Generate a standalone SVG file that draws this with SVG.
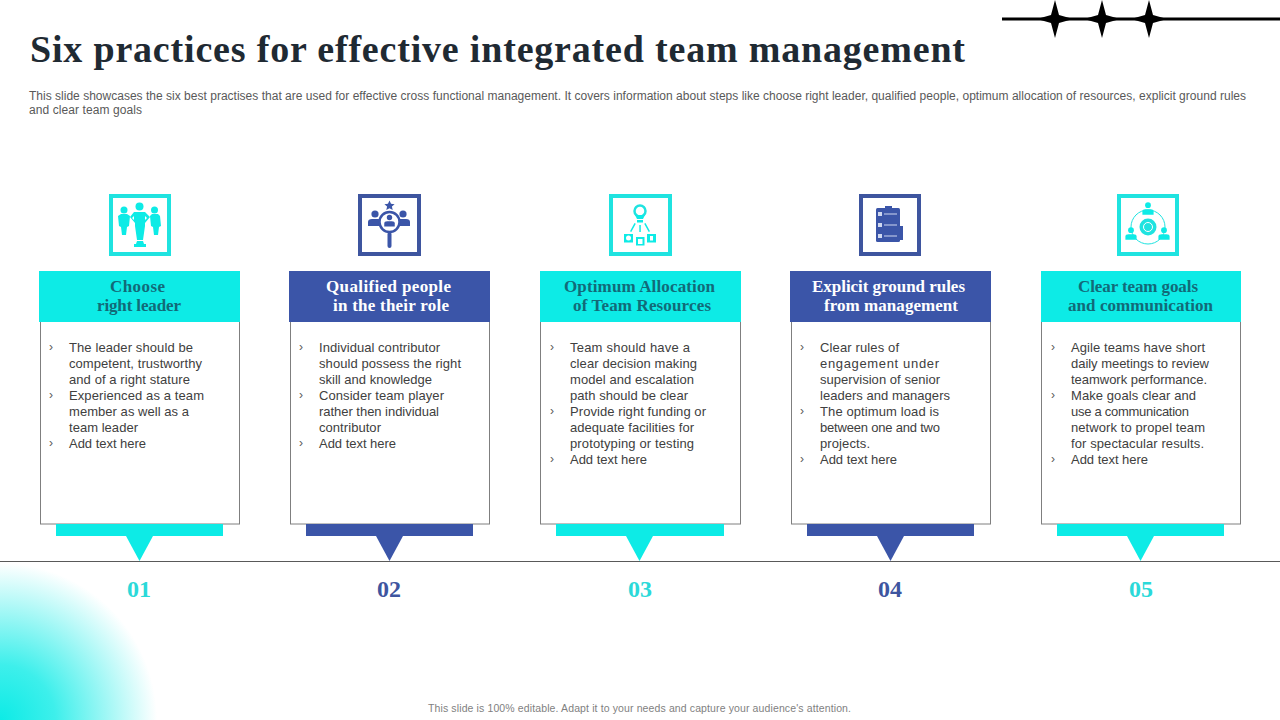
<svg xmlns="http://www.w3.org/2000/svg" width="1280" height="720" viewBox="0 0 1280 720">
<style>
.t{font-family:"Liberation Serif","DejaVu Serif",serif;font-weight:700}
.title{font-size:38px;fill:#1f2a33}
.s{font-family:"Liberation Sans",Arial,sans-serif}
.intro{font-size:12px;fill:#595959}
.foot{font-size:10.500px;fill:#7f7f7f}
.b{font-size:13px;fill:#404040}
.m{font-size:12px;fill:#595959}
.h{font-size:17px}
.hc{fill:#126a78}
.hb{fill:#fff}
.n{font-size:24px;text-anchor:middle}
.card{fill:#fff;stroke:#7f7f7f;stroke-width:1}
.c{fill:#0debe6}
.d{fill:#3b55a8}
.ic{fill:none;stroke-width:4}
.cs{stroke:#1fe3e0}
.ds{stroke:#3e559f}
.nc{fill:#2bd9d9}
.nd{fill:#3e559f}
</style>
<defs>
<radialGradient id="glow" gradientUnits="userSpaceOnUse" cx="0" cy="720" r="157">
<stop offset="0" stop-color="#0debe6"/><stop offset="0.35" stop-color="#0debe6" stop-opacity="0.8"/><stop offset="1" stop-color="#0debe6" stop-opacity="0"/>
</radialGradient>
<path id="star" d="M0-19 4-4 18 0 4 4 0 19-4 4-18 0-4-4Z" fill="#000"/>
<g id="person"><circle cx="0" cy="-6" r="3.600"/><path d="M-7 6v-4q0-3 4-3h6q4 0 4 3v4Z"/></g>
</defs>
<rect x="0" y="562" width="160" height="158" fill="url(#glow)"/>
<g id="decor">
<line x1="1002" y1="19" x2="1280" y2="19" stroke="#000" stroke-width="3"/>
<use href="#star" x="1055" y="19"/><use href="#star" x="1102" y="19"/><use href="#star" x="1149" y="19"/>
</g>
<text id="title" class="t title" x="30" y="62" textLength="935" lengthAdjust="spacing">Six practices for effective integrated team management</text>
<g id="intro" class="s intro">
<text x="29" y="100" textLength="1217" lengthAdjust="spacing">This slide showcases the six best practises that are used for effective cross functional management. It covers information about steps like choose right leader, qualified people, optimum allocation of resources, explicit ground rules</text>
<text x="29" y="114" textLength="113" lengthAdjust="spacing">and clear team goals</text>
</g>
<g id="connectors">
<line x1="0" y1="561.500" x2="1280" y2="561.500" stroke="#595959" stroke-width="1"/>
</g>

<g id="node1">
<rect class="ic cs" x="111" y="196" width="58" height="58"/>
<g class="c">
<circle cx="124" cy="210" r="3.500"/><circle cx="139.500" cy="206.500" r="4"/><circle cx="154.500" cy="210" r="3.500"/>
<path d="M121 214h6l3 2-1 10-2 1-1 8h-4l-1-8-2-1-1-10Z"/><path d="M152 214h6l2 2 1 10-2 1-1 8h-4l-1-8-2-1-1-10Z"/>
<path d="M134 212h11l5 5-5 6v3l-2 14h-6l-2-14v-3l-5-6ZM134 216l-2 2 2 2ZM145 216v4l2-2Z" fill-rule="evenodd"/>
<path d="M137 241h6l1 3h2v3h-12v-3h2Z"/>
</g>
<rect class="card" x="40.500" y="300" width="199" height="224"/>
<rect class="c" x="39" y="271" width="201" height="51"/>
<text class="t h hc" x="110" y="292" textLength="55">Choose</text><text class="t h hc" x="97" y="311" textLength="84">right leader</text>
<g class="s b">
<text class="m" x="49" y="351">›</text><text x="69" y="352" textLength="124">The leader should be</text>
<text x="69" y="368" textLength="133">competent, trustworthy</text>
<text x="69" y="384" textLength="121">and of a right stature</text>
<text class="m" x="49" y="399">›</text><text x="69" y="400" textLength="135">Experienced as a team</text>
<text x="69" y="416" textLength="120">member as well as a</text>
<text x="69" y="432" textLength="69">team leader</text>
<text class="m" x="49" y="447">›</text><text x="69" y="448" textLength="77">Add text here</text>
</g>
<rect class="c" x="56" y="524" width="167" height="12"/><path class="c" d="M126 536h27l-13.500 25Z"/>
<text class="t n nc" x="139" y="597">01</text>
</g>

<g id="node2">
<rect class="ic ds" x="360" y="196" width="59" height="58"/>
<g class="d">
<path d="M389.500 200.500l1.500 3.300 3.600.4-2.700 2.400.8 3.500-3.200-1.800-3.200 1.800.8-3.500-2.700-2.400 3.600-.4Z"/>
<use href="#person" x="375" y="220"/><use href="#person" x="403" y="220"/>
<circle cx="389.500" cy="222" r="10" fill="#fff" stroke="#3b55a8" stroke-width="2.500"/>
<use href="#person" transform="translate(389.500 222) scale(.75)"/>
<rect x="387.500" y="232" width="4" height="16" rx="2"/>
</g>
<rect class="card" x="290.500" y="300" width="199" height="224"/>
<rect class="d" x="289" y="271" width="201" height="51"/>
<text class="t h hb" x="326" y="292" textLength="125">Qualified people</text><text class="t h hb" x="333" y="311" textLength="116">in the their  role</text>
<g class="s b">
<text class="m" x="299" y="351">›</text><text x="319" y="352" textLength="121">Individual  contributor</text>
<text x="319" y="368" textLength="142">should possess the right</text>
<text x="319" y="384" textLength="113">skill and knowledge</text>
<text class="m" x="299" y="399">›</text><text x="319" y="400" textLength="125">Consider team player</text>
<text x="319" y="416" textLength="120">rather then individual</text>
<text x="319" y="432" textLength="62">contributor</text>
<text class="m" x="299" y="447">›</text><text x="319" y="448" textLength="77">Add text here</text>
</g>
<rect class="d" x="306" y="524" width="167" height="12"/><path class="d" d="M376 536h27l-13.500 25Z"/>
<text class="t n nd" x="389" y="597">02</text>
</g>

<g id="node3">
<rect class="ic cs" x="611" y="196" width="59" height="58"/>
<circle cx="640" cy="211" r="5.500" fill="none" stroke="#1fe3e0" stroke-width="2.500"/>
<g class="c">
<path d="M635 215h10l-2 4h-6Z"/><rect x="637" y="220" width="6" height="2.500"/>
<rect x="639.300" y="225" width="1.500" height="7"/>
<path d="M634.500 223l1.300.8-4.500 8.200-1.300-.8ZM645.500 223l-1.300.8 4.500 8.200 1.300-.8Z"/>
<rect x="624" y="234" width="9" height="8.500"/><rect x="636" y="237" width="8.500" height="8.500"/><rect x="647" y="234" width="9" height="8.500"/>
</g>
<g fill="#fff"><circle cx="628.500" cy="238" r="2.500"/><rect x="638" y="239" width="4.500" height="5"/><rect x="650" y="236" width="3" height="4.500"/></g>
<rect class="card" x="540.500" y="300" width="200" height="224"/>
<rect class="c" x="540" y="271" width="201" height="51"/>
<text class="t h hc" x="564" y="292" textLength="151">Optimum Allocation</text><text class="t h hc" x="573" y="311" textLength="138">of Team Resources</text>
<g class="s b">
<text class="m" x="550" y="351">›</text><text x="570" y="352" textLength="120">Team should have a</text>
<text x="570" y="368" textLength="127">clear decision making</text>
<text x="570" y="384" textLength="124">model and escalation</text>
<text x="570" y="400" textLength="118">path should be clear</text>
<text class="m" x="550" y="415">›</text><text x="570" y="416" textLength="136">Provide right funding or</text>
<text x="570" y="432" textLength="124">adequate facilities for</text>
<text x="570" y="448" textLength="124">prototyping or testing</text>
<text class="m" x="550" y="463">›</text><text x="570" y="464" textLength="77">Add text here</text>
</g>
<rect class="c" x="556" y="524" width="168" height="12"/><path class="c" d="M626 536h27l-13.500 25Z"/>
<text class="t n nc" x="640" y="597">03</text>
</g>

<g id="node4">
<rect class="ic ds" x="861" y="196" width="58" height="58"/>
<rect class="d" x="900" y="226" width="3" height="14"/>
<rect class="d" x="876" y="208" width="24" height="34" rx="1.500"/>
<rect class="d" x="885" y="206" width="7" height="3"/>
<g fill="#cfd8f0"><rect x="878" y="212" width="4" height="4"/><rect x="878" y="223" width="4" height="4"/><rect x="878" y="234" width="4" height="4"/>
<rect x="884" y="213.500" width="13" height="1"/><rect x="884" y="224.500" width="13" height="1"/><rect x="884" y="235.500" width="13" height="1"/></g>
<rect class="card" x="791.500" y="300" width="199" height="224"/>
<rect class="d" x="790" y="271" width="201" height="51"/>
<text class="t h hb" x="812" y="292" textLength="153">Explicit ground rules</text><text class="t h hb" x="824" y="311" textLength="134">from management</text>
<g class="s b">
<text class="m" x="800" y="351">›</text><text x="820" y="352" textLength="79">Clear rules of</text>
<text x="820" y="368" textLength="119">engagement  under</text>
<text x="820" y="384" textLength="120">supervision of senior</text>
<text x="820" y="400" textLength="130">leaders and managers</text>
<text class="m" x="800" y="415">›</text><text x="820" y="416" textLength="119">The optimum load is</text>
<text x="820" y="432" textLength="120">between one and two</text>
<text x="820" y="448" textLength="50">projects.</text>
<text class="m" x="800" y="463">›</text><text x="820" y="464" textLength="77">Add text here</text>
</g>
<rect class="d" x="807" y="524" width="167" height="12"/><path class="d" d="M877 536h27l-13.500 25Z"/>
<text class="t n nd" x="890" y="597">04</text>
</g>

<g id="node5">
<rect class="ic cs" x="1119" y="196" width="58" height="58"/>
<circle cx="1148" cy="227" r="17" fill="none" stroke="#1fe3e0" stroke-width="1"/>
<circle cx="1148" cy="227" r="8.500" fill="#1fe3e0"/>
<circle cx="1148" cy="227" r="4.500" fill="none" stroke="#fff" stroke-width="1"/>
<g class="c"><use href="#person" transform="translate(1148 210) scale(.8)"/><use href="#person" transform="translate(1131 235) scale(.8)"/><use href="#person" transform="translate(1164 235) scale(.8)"/></g>
<rect class="card" x="1041.500" y="300" width="199" height="224"/>
<rect class="c" x="1041" y="271" width="200" height="51"/>
<text class="t h hc" x="1078" y="292" textLength="120">Clear team goals</text><text class="t h hc" x="1068" y="311" textLength="145">and communication</text>
<g class="s b">
<text class="m" x="1051" y="351">›</text><text x="1071" y="352" textLength="134">Agile teams have short</text>
<text x="1071" y="368" textLength="138">daily meetings to review</text>
<text x="1071" y="384" textLength="136">teamwork performance.</text>
<text class="m" x="1051" y="399">›</text><text x="1071" y="400" textLength="125">Make goals clear and</text>
<text x="1071" y="416" textLength="118">use a communication</text>
<text x="1071" y="432" textLength="134">network to propel team</text>
<text x="1071" y="448" textLength="133">for spectacular results.</text>
<text class="m" x="1051" y="463">›</text><text x="1071" y="464" textLength="77">Add text here</text>
</g>
<rect class="c" x="1057" y="524" width="167" height="12"/><path class="c" d="M1127 536h27l-13.500 25Z"/>
<text class="t n nc" x="1141" y="597">05</text>
</g>

<text id="footer" class="s foot" x="428" y="712" textLength="423" lengthAdjust="spacing">This slide is 100% editable. Adapt it to your needs and capture your audience's attention.</text>
</svg>
